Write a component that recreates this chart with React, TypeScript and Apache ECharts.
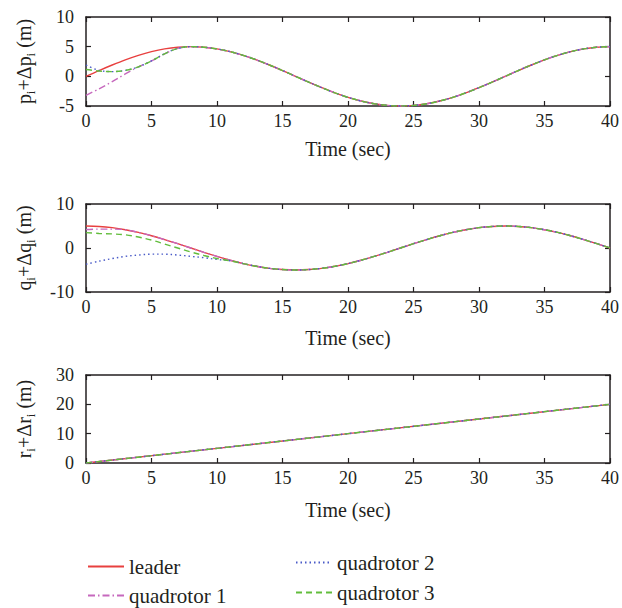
import React, { useEffect, useRef } from "react";
import * as echarts from "echarts";

const TIME = [0, 1, 2, 3, 4, 5, 6, 7, 8, 9, 10, 11, 12, 13, 14, 15, 16, 17, 18, 19, 20, 21, 22, 23, 24, 25, 26, 27, 28, 29, 30, 31, 32, 33, 34, 35, 36, 37, 38, 39, 40];

const P_LEADER = [0, 0.98, 1.91, 2.78, 3.54, 4.16, 4.62, 4.9, 5, 4.9, 4.62, 4.16, 3.54, 2.78, 1.91, 0.98, 0, -0.98, -1.91, -2.78, -3.54, -4.16, -4.62, -4.9, -5, -4.9, -4.62, -4.16, -3.54, -2.78, -1.91, -0.98, 0, 0.98, 1.91, 2.78, 3.54, 4.16, 4.62, 4.9, 5];
const P_Q1 = [-3.2, -2.1, -0.9, 0.4, 1.6, 2.6, 3.8, 4.7, 5.0, 4.9, 4.62, 4.16, 3.54, 2.78, 1.91, 0.98, 0, -0.98, -1.91, -2.78, -3.54, -4.16, -4.62, -4.9, -5, -4.9, -4.62, -4.16, -3.54, -2.78, -1.91, -0.98, 0, 0.98, 1.91, 2.78, 3.54, 4.16, 4.62, 4.9, 5];
const P_Q2 = [1.9, 1.0, 0.8, 1.0, 1.6, 2.6, 3.8, 4.7, 5.0, 4.9, 4.62, 4.16, 3.54, 2.78, 1.91, 0.98, 0, -0.98, -1.91, -2.78, -3.54, -4.16, -4.62, -4.9, -5, -4.9, -4.62, -4.16, -3.54, -2.78, -1.91, -0.98, 0, 0.98, 1.91, 2.78, 3.54, 4.16, 4.62, 4.9, 5];
const P_Q3 = [1.15, 0.9, 0.8, 1.0, 1.6, 2.6, 3.8, 4.7, 5.0, 4.9, 4.62, 4.16, 3.54, 2.78, 1.91, 0.98, 0, -0.98, -1.91, -2.78, -3.54, -4.16, -4.62, -4.9, -5, -4.9, -4.62, -4.16, -3.54, -2.78, -1.91, -0.98, 0, 0.98, 1.91, 2.78, 3.54, 4.16, 4.62, 4.9, 5];

const Q_LEADER = [5, 4.9, 4.62, 4.16, 3.54, 2.78, 1.91, 0.98, 0, -0.98, -1.91, -2.78, -3.54, -4.16, -4.62, -4.9, -5, -4.9, -4.62, -4.16, -3.54, -2.78, -1.91, -0.98, 0, 0.98, 1.91, 2.78, 3.54, 4.16, 4.62, 4.9, 5, 4.9, 4.62, 4.16, 3.54, 2.78, 1.91, 0.98, 0];
const Q_Q1 = [4.2, 4.3, 4.3, 4.16, 3.54, 2.78, 1.91, 0.98, 0, -0.98, -1.91, -2.78, -3.54, -4.16, -4.62, -4.9, -5, -4.9, -4.62, -4.16, -3.54, -2.78, -1.91, -0.98, 0, 0.98, 1.91, 2.78, 3.54, 4.16, 4.62, 4.9, 5, 4.9, 4.62, 4.16, 3.54, 2.78, 1.91, 0.98, 0];
const Q_Q2 = [-3.7, -3.0, -2.4, -1.9, -1.6, -1.4, -1.4, -1.6, -1.9, -2.2, -2.6, -2.9, -3.54, -4.16, -4.62, -4.9, -5, -4.9, -4.62, -4.16, -3.54, -2.78, -1.91, -0.98, 0, 0.98, 1.91, 2.78, 3.54, 4.16, 4.62, 4.9, 5, 4.9, 4.62, 4.16, 3.54, 2.78, 1.91, 0.98, 0];
const Q_Q3 = [3.5, 3.3, 3.2, 3.0, 2.5, 1.8, 0.9, 0.0, -0.9, -1.7, -2.4, -2.9, -3.54, -4.16, -4.62, -4.9, -5, -4.9, -4.62, -4.16, -3.54, -2.78, -1.91, -0.98, 0, 0.98, 1.91, 2.78, 3.54, 4.16, 4.62, 4.9, 5, 4.9, 4.62, 4.16, 3.54, 2.78, 1.91, 0.98, 0];

const R_TIME = [0, 10, 20, 30, 40];
const R_LEADER = [0, 5, 10, 15, 20];
const R_Q1 = [0, 5, 10, 15, 20];
const R_Q2 = [0, 5, 10, 15, 20];
const R_Q3 = [0, 5, 10, 15, 20];

const SERIES_NAMES = ["leader", "quadrotor 1", "quadrotor 2", "quadrotor 3"];
const Y_NAMES = [
  "{n|p}{s|i}{n|+Δp}{s|i}{n| (m)}",
  "{n|q}{s|i}{n|+Δq}{s|i}{n| (m)}",
  "{n|r}{s|i}{n|+Δr}{s|i}{n| (m)}",
];
const X_NAME = "Time (sec)";

const FONT = "Liberation Serif";
const INK = "#231f20";
const COLORS = ["#e8403f", "#c668bd", "#4a5bc8", "#62bd3c"];
const DASHES: any[] = ["solid", [7, 3, 1.5, 3], [1.5, 3], [6, 4]];

export default function App() {
  const ref = useRef<HTMLDivElement>(null);
  useEffect(() => {
    if (!ref.current) return;
    const chart = echarts.init(ref.current, undefined, { renderer: "svg" });

    const grids = [
      { left: 86, right: 12, top: 17, height: 89 },
      { left: 86, right: 12, top: 204, height: 88 },
      { left: 86, right: 12, top: 375, height: 88 },
    ];
    const yRanges = [
      { min: -5, max: 10, interval: 5 },
      { min: -10, max: 10, interval: 10 },
      { min: 0, max: 30, interval: 10 },
    ];
    const xNameGaps = [33, 36, 37];

    const line = { show: true, onZero: false, lineStyle: { color: INK, width: 1.5 } };
    const tick = { show: true, inside: true, length: 5, lineStyle: { color: INK, width: 1.2 } };

    const xAxis: any[] = [];
    const yAxis: any[] = [];
    grids.forEach((_, g) => {
      xAxis.push({
        type: "value", gridIndex: g, min: 0, max: 40, interval: 5, position: "bottom",
        axisLine: line, axisTick: tick, splitLine: { show: false },
        axisLabel: { fontFamily: FONT, fontSize: 18, color: INK, margin: 6 },
        name: X_NAME, nameLocation: "middle", nameGap: xNameGaps[g],
        nameTextStyle: { fontFamily: FONT, fontSize: 20, color: INK },
      });
      xAxis.push({
        type: "value", gridIndex: g, min: 0, max: 40, interval: 5, position: "top",
        axisLine: line, axisTick: tick, splitLine: { show: false }, axisLabel: { show: false },
      });
      yAxis.push({
        type: "value", gridIndex: g, ...yRanges[g], position: "left",
        axisLine: line, axisTick: tick, splitLine: { show: false },
        axisLabel: { fontFamily: FONT, fontSize: 18, color: INK, margin: 12 },
        name: Y_NAMES[g], nameLocation: "middle", nameGap: 49,
        nameTextStyle: {
          color: INK,
          rich: {
            n: { fontFamily: FONT, fontSize: 20, color: INK, lineHeight: 20, verticalAlign: "top" },
            s: { fontFamily: FONT, fontSize: 13, color: INK, lineHeight: 23, verticalAlign: "bottom" },
          },
        },
      });
      yAxis.push({
        type: "value", gridIndex: g, ...yRanges[g], position: "right",
        axisLine: line, axisTick: tick, splitLine: { show: false }, axisLabel: { show: false },
      });
    });

    const datasets = [
      { t: TIME, v: [P_LEADER, P_Q1, P_Q2, P_Q3] },
      { t: TIME, v: [Q_LEADER, Q_Q1, Q_Q2, Q_Q3] },
      { t: R_TIME, v: [R_LEADER, R_Q1, R_Q2, R_Q3] },
    ];

    const series: any[] = [];
    datasets.forEach((ds, g) => {
      ds.v.forEach((vals, k) => {
        series.push({
          type: "line", name: SERIES_NAMES[k], xAxisIndex: g * 2, yAxisIndex: g * 2,
          data: ds.t.map((t, i) => [t, vals[i]]),
          smooth: g < 2 ? 0.35 : false, symbol: "none", showSymbol: false,
          lineStyle: { color: COLORS[k], width: 1.4, type: DASHES[k] },
          itemStyle: { color: COLORS[k] },
          z: 2 + k,
        });
      });
    });

    const legendBase = {
      orient: "vertical", itemWidth: 36, itemHeight: 14, padding: 0, itemGap: 8,
      itemStyle: { color: "transparent", borderWidth: 0, opacity: 0 },
      textStyle: { fontFamily: FONT, fontSize: 21, color: INK },
    };

    chart.setOption({
      animation: false,
      grid: grids,
      xAxis, yAxis, series,
      legend: [
        { ...legendBase, data: ["leader", "quadrotor 1"], left: 87, top: 556 },
        { ...legendBase, data: ["quadrotor 2", "quadrotor 3"], left: 295, top: 552, itemGap: 9 },
      ],
    });
    return () => chart.dispose();
  }, []);
  return <div ref={ref} style={{ position: "absolute", left: 0, top: 0, width: 622, height: 608 }} />;
}
